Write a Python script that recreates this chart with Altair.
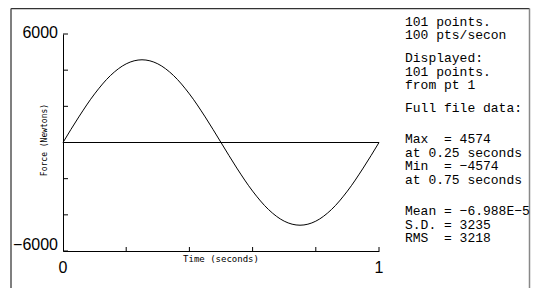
import altair as alt
import pandas as pd

# ---- data ----
time_s = [0.0, 0.05, 0.10, 0.15, 0.20, 0.25, 0.30, 0.35, 0.40, 0.45, 0.50,
          0.55, 0.60, 0.65, 0.70, 0.75, 0.80, 0.85, 0.90, 0.95, 1.0]
force_n = [0, 1413, 2688, 3700, 4350, 4574, 4350, 3700, 2688, 1413, 0,
           -1413, -2688, -3700, -4350, -4574, -4350, -3700, -2688, -1413, 0]
y_tick_values = [-6000, -4000, -2000, 0, 2000, 4000, 6000]
x_tick_values = [0.2, 0.4, 0.6, 0.8, 1.0]
y_label_top = 6000
y_label_bottom = -6000
x_label_values = [0, 1]
NB = "\u00a0"
info_block1 = ["101 points.", "100 pts/secon"]
info_block2 = ["Displayed:", "101 points.", "from pt 1"]
info_block3 = ["Full file data:"]
info_block4 = ["Max" + NB * 2 + "= 4574", "at 0.25 seconds",
               "Min" + NB * 2 + "= \u22124574", "at 0.75 seconds"]
info_block5 = ["Mean = \u22126.988E\u22125", "S.D. = 3235", "RMS" + NB * 2 + "= 3218"]

W, H = 316, 217

df = pd.DataFrame({"t": time_s, "f": force_n})
one = pd.DataFrame({"k": [0]})
yt = pd.DataFrame({"v": y_tick_values})
xt = pd.DataFrame({"v": x_tick_values})
xl = pd.DataFrame({"v": x_label_values, "s": [str(v) for v in x_label_values]})

xscale = alt.Scale(domain=[0, 1], nice=False, zero=False)
yscale = alt.Scale(domain=[-6000, 6000], nice=False, zero=False)
xaxis = alt.Axis(labels=False, ticks=False, grid=False, title=None,
                 domainColor="black", domainWidth=1)
yaxis = alt.Axis(labels=False, ticks=False, grid=False, title=None,
                 domainColor="black", domainWidth=1)

curve = alt.Chart(df).mark_line(color="black", strokeWidth=1, interpolate="monotone").encode(
    x=alt.X("t:Q", scale=xscale, axis=xaxis),
    y=alt.Y("f:Q", scale=yscale, axis=yaxis),
)

zero_line = alt.Chart(one).mark_rule(color="black", strokeWidth=1).encode(
    x=alt.datum(0), x2=alt.datum(1), y=alt.datum(0)
)

yticks = alt.Chart(yt).mark_rule(color="black", strokeWidth=1).encode(
    y="v:Q", x=alt.value(0), x2=alt.value(5)
)
xticks = alt.Chart(xt).mark_rule(color="black", strokeWidth=1).encode(
    x="v:Q", y=alt.value(H), y2=alt.value(H - 4)
)

lab_font = "Liberation Sans"
ylab_top = alt.Chart(one).mark_text(
    align="right", baseline="middle", font=lab_font, fontSize=16, color="black", dy=-1
).encode(x=alt.value(-5), y=alt.datum(y_label_top), text=alt.value(str(y_label_top)))
ylab_bot = alt.Chart(one).mark_text(
    align="right", baseline="bottom", font=lab_font, fontSize=16, color="black", dy=2
).encode(x=alt.value(-5), y=alt.datum(y_label_bottom), text=alt.value("\u2212" + str(-y_label_bottom)))
xlabs = alt.Chart(xl).mark_text(
    align="center", baseline="middle", font=lab_font, fontSize=16, color="black"
).encode(x="v:Q", y=alt.value(H + 17), text="s:N")

ytitle = alt.Chart(one).mark_text(
    angle=270, align="center", baseline="middle", font="DejaVu Sans Mono", fontSize=8, color="black"
).encode(x=alt.value(-18), y=alt.value(106), text=alt.value("Force (Newtons)"))
xtitle = alt.Chart(one).mark_text(
    align="center", baseline="middle", font="DejaVu Sans Mono", fontSize=9, color="black"
).encode(x=alt.value(W / 2), y=alt.value(H + 8), text=alt.value("Time (seconds)"))

TX = 342
info_font = "Liberation Mono"
info_layers = []
for block, ytop in [(info_block1, -12.5), (info_block2, 24), (info_block3, 74),
                    (info_block4, 105), (info_block5, 177)]:
    info_layers.append(
        alt.Chart(one).mark_text(
            text=block, align="left", baseline="middle", font=info_font, fontSize=13,
            lineHeight=13.5, color="black"
        ).encode(x=alt.value(TX), y=alt.value(ytop))
    )

# outer frame
fL, fR, fT, fB = -52, 466.5, -25.5, 254
frame_top = alt.Chart(one).mark_rule(color="#333", strokeWidth=1.5).encode(
    x=alt.value(fL), x2=alt.value(fR), y=alt.value(fT))
frame_left = alt.Chart(one).mark_rule(color="#555", strokeWidth=1.5).encode(
    x=alt.value(fL), y=alt.value(fT), y2=alt.value(fB))
frame_right = alt.Chart(one).mark_rule(color="#888", strokeWidth=1.5).encode(
    x=alt.value(fR), y=alt.value(fT), y2=alt.value(fB))

chart = alt.layer(
    frame_top, frame_left, frame_right,
    curve, zero_line, yticks, xticks, ylab_top, ylab_bot, xlabs, ytitle, xtitle,
    *info_layers
).properties(
    width=W, height=H,
    autosize=alt.AutoSizeParams(type="none"),
    padding={"left": 55, "top": 26, "right": 152, "bottom": 37},
    background="white",
).configure_view(stroke=None)

chart.save("out.html", embed_options={"renderer": "svg", "actions": False})
